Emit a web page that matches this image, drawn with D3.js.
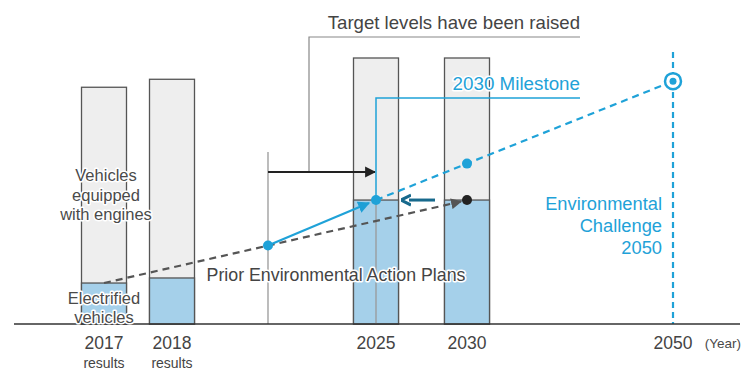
<!DOCTYPE html>
<html>
<head>
<meta charset="utf-8">
<script src="https://cdn.jsdelivr.net/npm/d3@7"></script>
<style>
  body { margin: 0; background: #fff; }
  svg { display: block; font-family: "Liberation Sans", Arial, sans-serif; }
  .halo { paint-order: stroke; stroke: #fff; stroke-width: 3px; stroke-linejoin: round; }
</style>
</head>
<body>
<div id="chart"></div>
<script>
// years along the axis (piecewise, not to scale)
const slotYears = [2017, 2018, 2021, 2025, 2030, 2050];
const bars = ['2017', '2018', '2025', '2030'];
const totalShare = [89, 92, 100, 100];        // whole bar
const electrifiedShare = [15.4, 17.3, 46.6, 46.6];
const tickYears = ['2017', '2018', '2025', '2030', '2050'];
const tickSub = ['results', 'results', '', '', ''];

// target lines
const priorPlan = [[2017, 15.4], [2030, 46.6]];      // old target, dashed gray
const priorStart = [2021, 29.5];
const milestone2025 = [2025, 46.6];
const milestone2030 = [2030, 60.3];
const challenge2050 = [2050, 91.3];

const width = 742, height = 370;

const x = d3.scaleLinear()
  .domain(slotYears)
  .range([104, 172, 268, 376, 467, 673]);
const y = d3.scaleLinear()
  .domain([0, 100])
  .range([324, 58]);
const barW = 45;

const svg = d3.select('#chart').append('svg')
  .attr('width', width)
  .attr('height', height);

const defs = svg.append('defs');
const marker = (id, color, w, h) => defs.append('marker')
  .attr('id', id)
  .attr('viewBox', '0 0 10 10')
  .attr('refX', 9).attr('refY', 5)
  .attr('markerWidth', w).attr('markerHeight', h)
  .attr('markerUnits', 'userSpaceOnUse')
  .attr('orient', 'auto')
  .append('path').attr('d', 'M0,0L10,5L0,10Z').attr('fill', color);
marker('arrBlack', '#222', 11, 13);
marker('arrGray', '#555', 11, 12);
marker('arrBlue', '#1e9fd6', 12, 12);
defs.append('marker')
  .attr('id', 'arrTeal')
  .attr('viewBox', '0 0 10 10')
  .attr('refX', 2).attr('refY', 5)
  .attr('markerWidth', 10).attr('markerHeight', 14)
  .attr('markerUnits', 'userSpaceOnUse')
  .attr('orient', 'auto')
  .append('path').attr('d', 'M0,0L10,5L0,10').attr('fill', 'none')
  .attr('stroke', '#17698c').attr('stroke-width', 3);

const blue = '#1fa2d8';

// bars
const g = svg.append('g');
g.selectAll('rect.total').data(bars).enter()
  .append('rect')
    .attr('class', 'total')
    .attr('x', d => x(+d) - barW / 2)
    .attr('y', (d, i) => y(totalShare[i]))
    .attr('width', barW)
    .attr('height', (d, i) => y(0) - y(totalShare[i]))
    .attr('fill', '#eeeeee')
    .attr('stroke', '#555')
    .attr('stroke-width', 1.3);
g.selectAll('rect.ev').data(bars).enter()
  .append('rect')
    .attr('class', 'ev')
    .attr('x', d => x(+d) - barW / 2)
    .attr('y', (d, i) => y(electrifiedShare[i]))
    .attr('width', barW)
    .attr('height', (d, i) => y(0) - y(electrifiedShare[i]))
    .attr('fill', '#a5d0ea')
    .attr('stroke', '#555')
    .attr('stroke-width', 1.3);

// vertical guides
g.append('line')
  .attr('x1', x(priorStart[0])).attr('x2', x(priorStart[0]))
  .attr('y1', 152).attr('y2', y(0))
  .attr('stroke', '#999').attr('stroke-width', 1.3);
g.append('line')
  .attr('x1', x(2025)).attr('x2', x(2025))
  .attr('y1', y(milestone2025[1])).attr('y2', y(0))
  .attr('stroke', '#999').attr('stroke-width', 1.3);

// "Target levels have been raised" bracket
g.append('path')
  .attr('d', `M${x(2021) + 41},172V37H580`)
  .attr('fill', 'none').attr('stroke', '#888').attr('stroke-width', 1.2);
g.append('line')
  .attr('x1', x(2021)).attr('x2', x(2025) - 1)
  .attr('y1', 172).attr('y2', 172)
  .attr('stroke', '#222').attr('stroke-width', 2)
  .attr('marker-end', 'url(#arrBlack)');

// 2030 milestone leader
g.append('path')
  .attr('d', `M${x(2025)},${y(milestone2025[1])}V98H580`)
  .attr('fill', 'none').attr('stroke', blue).attr('stroke-width', 1.5);

// 2050 vertical dashed
g.append('line')
  .attr('x1', x(2050)).attr('x2', x(2050))
  .attr('y1', 52).attr('y2', y(0))
  .attr('stroke', blue).attr('stroke-width', 2.2)
  .attr('stroke-dasharray', '6,4');

// prior plan dashed line
g.append('line')
  .attr('x1', x(priorPlan[0][0])).attr('y1', y(priorPlan[0][1]))
  .attr('x2', x(priorPlan[1][0]) - 6).attr('y2', y(priorPlan[1][1]) + 1.5)
  .attr('stroke', '#555').attr('stroke-width', 2.2)
  .attr('stroke-dasharray', '7,5')
  .attr('marker-end', 'url(#arrGray)');

// new target dashed line
g.append('path')
  .attr('d', d3.line()([milestone2025, milestone2030, challenge2050].map(p => [x(p[0]), y(p[1])])))
  .attr('fill', 'none').attr('stroke', blue).attr('stroke-width', 2.2)
  .attr('stroke-dasharray', '7,5');

// solid blue arrow
g.append('line')
  .attr('x1', x(priorStart[0])).attr('y1', y(priorStart[1]))
  .attr('x2', x(2025) - 7).attr('y2', y(milestone2025[1]) + 3)
  .attr('stroke', blue).attr('stroke-width', 2.2)
  .attr('marker-end', 'url(#arrBlue)');

// left-pointing dark arrow
g.append('line')
  .attr('x1', 435).attr('x2', 409)
  .attr('y1', y(milestone2025[1])).attr('y2', y(milestone2025[1]))
  .attr('stroke', '#17698c').attr('stroke-width', 3)
  .attr('marker-end', 'url(#arrTeal)');

// points
const dots = [
  { p: priorStart, c: blue },
  { p: milestone2025, c: blue },
  { p: milestone2030, c: blue },
  { p: priorPlan[1], c: '#222' }
];
g.selectAll('circle.pt').data(dots).enter()
  .append('circle')
    .attr('class', 'pt')
    .attr('cx', d => x(d.p[0]))
    .attr('cy', d => y(d.p[1]))
    .attr('r', 5)
    .attr('fill', d => d.c);
g.append('circle')
  .attr('cx', x(challenge2050[0])).attr('cy', y(challenge2050[1]))
  .attr('r', 8).attr('fill', '#fff')
  .attr('stroke', blue).attr('stroke-width', 2.5);
g.append('circle')
  .attr('cx', x(challenge2050[0])).attr('cy', y(challenge2050[1]))
  .attr('r', 3.5).attr('fill', blue);

// baseline
g.append('line')
  .attr('x1', 14).attr('x2', 740)
  .attr('y1', y(0)).attr('y2', y(0))
  .attr('stroke', '#333').attr('stroke-width', 1.5);

// axis labels
const axisG = svg.append('g');
axisG.selectAll('text.yr').data(tickYears).enter()
  .append('text')
    .attr('class', 'yr')
    .attr('x', d => x(+d))
    .attr('y', 349)
    .attr('text-anchor', 'middle')
    .attr('font-size', 17.5)
    .attr('fill', '#444')
    .text(d => d);
axisG.selectAll('text.sub').data(tickSub).enter()
  .append('text')
    .attr('class', 'sub')
    .attr('x', (d, i) => x(+tickYears[i]))
    .attr('y', 368)
    .attr('text-anchor', 'middle')
    .attr('font-size', 14)
    .attr('fill', '#444')
    .text(d => d);
axisG.append('text')
  .attr('x', 741).attr('y', 348)
  .attr('text-anchor', 'end')
  .attr('font-size', 13.5)
  .attr('fill', '#4a4a4a')
  .text('(Year)');

// annotations
const label = (lines, xp, y0, dy, anchor, color, size, halo) => {
  const t = svg.append('text')
    .attr('text-anchor', anchor)
    .attr('font-size', size)
    .attr('fill', color)
    .classed('halo', !!halo);
  lines.forEach((s, i) => t.append('tspan').attr('x', xp).attr('y', y0 + i * dy).text(s));
};
label(['Target levels have been raised'], 580, 29, 0, 'end', '#444', 18.6);
label(['2030 Milestone'], 580, 90, 0, 'end', blue, 18.8, true);
label(['Vehicles', 'equipped', 'with engines'], 106, 181, 19.5, 'middle', '#4a4a4a', 16.5, true);
label(['Electrified', 'vehicles'], 104, 304, 18.5, 'middle', '#4a4a4a', 16.5, true);
label(['Prior Environmental Action Plans'], 336, 281, 0, 'middle', '#444', 17.8, true);
label(['Environmental', 'Challenge', '2050'], 662, 210, 22, 'end', blue, 18.3);
</script>
</body>
</html>
